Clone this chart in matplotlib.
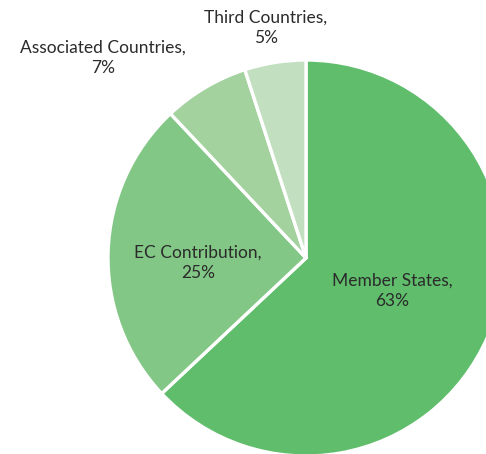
import matplotlib.pyplot as plt

labels = ['Member States', 'EC Contribution', 'Associated Countries', 'Third Countries']
shares = [63, 25, 7, 5]
colors = ['#5fbd6b', '#82c785', '#a3d29f', '#c2e0c0']

# label positions in pixel coords (origin bottom-left)
label_pos = [(392, 163), (198, 191), (103, 396), (266, 426)]

fig = plt.figure(figsize=(4.86, 4.54), dpi=100)
ax = fig.add_axes([0, 0, 1, 1])

ax.pie(shares, colors=colors, startangle=90, counterclock=False,
       center=(306, 196), radius=198,
       wedgeprops=dict(edgecolor='white', linewidth=2.4))

for lab, val, (x, y) in zip(labels, shares, label_pos):
    ax.text(x, y, f'{lab},\n{val}%', ha='center', va='center',
            fontsize=12.5, family='Lato', color='#2b2b2b', linespacing=1.35)

ax.set_xlim(0, 486)
ax.set_ylim(0, 454)
ax.set_aspect('equal')
ax.axis('off')

fig.savefig('out.png', dpi=100)
